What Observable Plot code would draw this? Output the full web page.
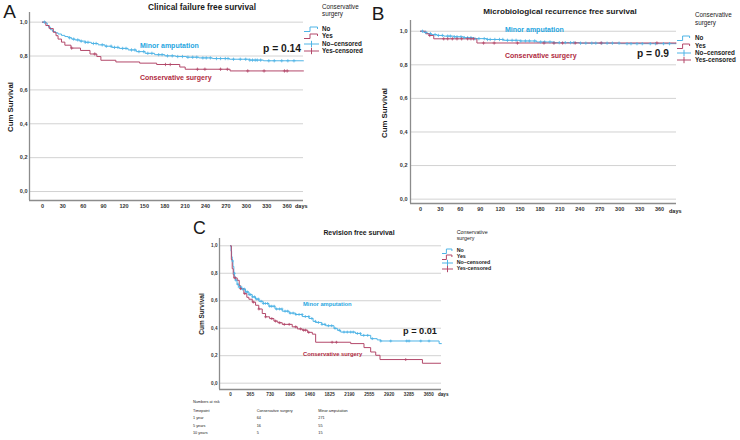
<!DOCTYPE html>
<html><head><meta charset="utf-8">
<script src="https://cdn.jsdelivr.net/npm/d3@7"></script>
<script src="https://cdn.jsdelivr.net/npm/@observablehq/plot@0.6"></script>
<style>
body{margin:0;background:#fff;}
#fig{position:relative;width:740px;height:440px;overflow:hidden;font-family:"Liberation Sans",Arial,sans-serif;color:#1a1a1a;background:#fff;}
.t{position:absolute;white-space:nowrap;line-height:1;}
.pan{position:absolute;}
</style></head><body><div id="fig"></div>
<script>
// ---------- DATA ----------
const groups = ["No", "Yes"];
const yTickValues = [0, 0.2, 0.4, 0.6, 0.8, 1.0];
const yTickLabels = ["0,0", "0,2", "0,4", "0,6", "0,8", "1,0"];
const daysTicksAB = [0, 30, 60, 90, 120, 150, 180, 210, 240, 270, 300, 330, 360];
const daysTicksC = [0, 365, 730, 1095, 1460, 1825, 2190, 2555, 2920, 3285, 3650];

// Panel A: Clinical failure free survival  [day, cumulative survival]
const aNo = [[0,1],[5,0.995],[7,0.98],[9,0.97],[12,0.955],[15,0.945],[19,0.937],[23,0.93],[28,0.922],[33,0.915],[38,0.908],[43,0.9],[48,0.895],[55,0.888],[63,0.881],[72,0.874],[82,0.866],[92,0.858],[102,0.851],[113,0.845],[126,0.836],[138,0.826],[151,0.816],[165,0.808],[180,0.801],[196,0.797],[212,0.793],[230,0.789],[250,0.785],[275,0.781],[305,0.776],[325,0.772],[384,0.772]];
const aYes = [[0,1],[5,0.98],[10,0.962],[16,0.94],[20,0.92],[23,0.9],[28,0.882],[33,0.864],[42,0.847],[56,0.833],[70,0.812],[80,0.797],[86,0.775],[108,0.765],[143,0.758],[168,0.75],[202,0.735],[210,0.722],[276,0.712],[384,0.712]];
const aNoCensored = [3,40,46,52,57,63,67,75,79,88,94,101,106,111,118,123,131,136,142,149,155,161,171,176,184,191,199,206,214,221,227,236,241,247,256,262,269,273,281,291,299,305,309,313,316,321,333,341,352,361,370];
const aYesCensored = [43,77,181,188,228,239,262,272,302,326,356,360];

// Panel B: Microbiological recurrence free survival
const bNo = [[0,1],[5,0.993],[10,0.986],[16,0.98],[25,0.975],[35,0.971],[50,0.967],[65,0.962],[80,0.956],[100,0.951],[125,0.946],[150,0.942],[175,0.936],[200,0.932],[240,0.929],[300,0.926],[385,0.926]];
const bYes = [[0,1],[8,0.985],[13,0.975],[20,0.955],[85,0.93],[385,0.93]];
const bNoCensored = [3,8,15,22,27,33,41,45,51,55,61,66,71,76,82,88,96,101,105,112,119,124,131,138,144,151,158,164,172,181,187,195,201,209,218,226,231,241,249,258,264,273,281,289,299,311,317,326,334,346,354,366,375];
const bYesCensored = [14,35,41,48,55,62,71,76,80,95,111,146,186,201,214,233,272,356];

// Panel C: Revision free survival
const cNo = [[0,1],[10,0.96],[20,0.92],[31,0.89],[45,0.85],[61,0.8],[75,0.775],[92,0.75],[120,0.72],[153,0.7],[200,0.685],[276,0.664],[340,0.645],[399,0.628],[460,0.612],[522,0.596],[600,0.58],[706,0.56],[820,0.54],[952,0.524],[1080,0.51],[1198,0.5],[1320,0.485],[1444,0.471],[1520,0.45],[1567,0.442],[1680,0.428],[1751,0.418],[1905,0.399],[1966,0.385],[2028,0.372],[2300,0.362],[2396,0.348],[2581,0.324],[2700,0.315],[2765,0.307],[3840,0.288],[3884,0.288]];
const cYes = [[0,1],[15,0.9],[31,0.833],[50,0.79],[61,0.766],[123,0.749],[160,0.71],[184,0.688],[246,0.652],[300,0.625],[338,0.611],[400,0.59],[461,0.567],[520,0.54],[584,0.507],[645,0.483],[720,0.47],[799,0.452],[870,0.44],[952,0.428],[1136,0.41],[1230,0.395],[1321,0.386],[1420,0.37],[1506,0.357],[1567,0.298],[2212,0.288],[2457,0.259],[2580,0.227],[2673,0.203],[2752,0.172],[3533,0.145],[3870,0.145]];
const cNoCensored = [38,72,98,133,158,192,221,254,283,312,344,371,405,442,483,518,563,604,641,683,722,758,803,848,903,947,1004,1052,1098,1153,1204,1262,1318,1377,1442,1497,1563,1618,1684,1738,1803,1862,1924,2004,2089,2150,2212,2260,2335,2390,2452,2525,2610,2765,2949,3244,3287,3502,3655];
const cYesCensored = [80,184,262,420,522,645,760,830,905,990,1080,1200,1290,1345,1382,1440,1870,1950,3225];

// Numbers at risk (panel C)
const riskRows = ["1 year", "5 years", "10 years"];
const riskConservative = [64, 16, 5];
const riskMinor = [271, 55, 15];

// ---------- STYLE ----------
const BLUE = "#4fb4e6", RED = "#b3486a", BLUE_T = "#27a6df", RED_T = "#b02a3e";
const FONT = '"Liberation Sans", Arial, sans-serif';
const fig = document.getElementById("fig");

function survAt(steps, t) {
  let v = steps[0][1];
  for (const [d, s] of steps) { if (d <= t) v = s; else break; }
  return v;
}

function panel(cfg) {
  const cens = (times, steps) => times.map(t => ({t, s: survAt(steps, t)}));
  const chart = Plot.plot({
    width: cfg.width, height: cfg.height,
    marginLeft: cfg.ml, marginRight: cfg.mr, marginTop: cfg.mt, marginBottom: cfg.mb,
    style: {fontFamily: FONT, fontSize: cfg.tick + "px", fontWeight: "bold", color: "#333", background: "transparent", overflow: "visible"},
    x: {domain: cfg.xDomain, ticks: cfg.xTicks, tickFormat: d => String(d), tickSize: 0, tickPadding: cfg.xpad, label: null},
    y: {domain: cfg.yDomain, ticks: yTickValues, tickFormat: d => yTickLabels[yTickValues.indexOf(d)], tickSize: 0, tickPadding: cfg.ypad, label: null},
    marks: [
      Plot.ruleY(yTickValues, {stroke: "#cdcdcd", strokeWidth: 0.9}),
      Plot.ruleX([cfg.xDomain[0]], {stroke: "#8c8c8c", strokeWidth: 1.3}),
      Plot.ruleY([cfg.yDomain[0]], {stroke: "#8c8c8c", strokeWidth: 1.3}),
      Plot.line(cfg.no, {x: d => d[0], y: d => d[1], curve: "step-after", stroke: BLUE, strokeWidth: 1}),
      Plot.line(cfg.yes, {x: d => d[0], y: d => d[1], curve: "step-after", stroke: RED, strokeWidth: 1}),
      Plot.dot(cens(cfg.noC, cfg.no), {x: "t", y: "s", symbol: "plus", r: cfg.r, stroke: BLUE, strokeWidth: 0.8}),
      Plot.dot(cens(cfg.yesC, cfg.yes), {x: "t", y: "s", symbol: "plus", r: cfg.r, stroke: RED, strokeWidth: 0.8})
    ]
  });
  const d = document.createElement("div");
  d.className = "pan";
  d.style.left = cfg.left + "px"; d.style.top = cfg.top + "px";
  d.appendChild(chart);
  fig.appendChild(d);
}

function txt(s, x, y, size, o = {}) {
  const e = document.createElement("div");
  e.className = "t";
  e.textContent = s;
  e.style.left = x + "px"; e.style.top = y + "px";
  e.style.fontSize = size + "px";
  e.style.fontWeight = o.w || "bold";
  if (o.c) e.style.color = o.c;
  let tr = o.center ? "translate(-50%,-50%)" : "translateY(-50%)";
  if (o.rot) tr += " rotate(-90deg)";
  e.style.transform = tr;
  fig.appendChild(e);
}

function legend(x, y0, dy, tx, gw, size, titleY1, titleY2) {
  txt("Conservative", tx, titleY1, size, {w: "normal"});
  txt("surgery", tx, titleY2, size, {w: "normal"});
  const items = [
    {label: "No", c: BLUE, kind: "step"},
    {label: "Yes", c: RED, kind: "step"},
    {label: "No\u2013censored", c: BLUE, kind: "cens"},
    {label: "Yes-censored", c: RED, kind: "cens"}
  ];
  items.forEach((it, i) => {
    const y = y0 + i * dy;
    const ns = "http://www.w3.org/2000/svg";
    const svg = document.createElementNS(ns, "svg");
    svg.setAttribute("width", gw); svg.setAttribute("height", 8);
    svg.style.position = "absolute"; svg.style.left = x + "px"; svg.style.top = (y - 4) + "px";
    const p = document.createElementNS(ns, "path");
    const h = gw;
    p.setAttribute("d", it.kind === "step"
      ? `M0,6.5 H${h*0.4} V2 H${h*0.9} V4`
      : `M0,4 H${h} M${h/2},0.8 V7.2`);
    p.setAttribute("fill", "none"); p.setAttribute("stroke", it.c); p.setAttribute("stroke-width", 1);
    svg.appendChild(p);
    fig.appendChild(svg);
    txt(it.label, tx, y, size, {});
  });
}

// ---------- PANEL A ----------
panel({left: 0, top: 0, width: 308, height: 213, ml: 29, mr: 5, mt: 12, mb: 13,
  xDomain: [-19, 384], yDomain: [-0.053, 1.057], xTicks: daysTicksAB, tick: 5.5, xpad: 4, ypad: 2,
  no: aNo, yes: aYes, noC: aNoCensored, yesC: aYesCensored, r: 1.15});
txt("A", 9.5, 10.5, 19, {w: "normal", center: true});
txt("Clinical failure free survival", 202, 7, 8.3, {center: true});
txt("Cum Survival", 11, 107, 7.8, {center: true, rot: true});
txt("days", 295, 206.7, 5.5, {});
txt("Minor amputation", 140, 45, 7, {c: BLUE_T});
txt("Conservative surgery", 140, 77, 7, {c: RED_T});
txt("p = 0.14", 263, 49, 10.3, {});
legend(304, 29, 7.3, 322, 15, 6.3, 6.7, 14.3);

// ---------- PANEL B ----------
panel({left: 380, top: 0, width: 301, height: 217, ml: 30, mr: 5, mt: 20, mb: 14,
  xDomain: [-15, 385.5], yDomain: [-0.026, 1.064], xTicks: daysTicksAB, tick: 5.5, xpad: 4, ypad: 3,
  no: bNo, yes: bYes, noC: bNoCensored, yesC: bYesCensored, r: 1.15});
txt("B", 378, 12.7, 19, {w: "normal", center: true});
txt("Microbiological recurrence free survival", 560, 12, 8.1, {center: true});
txt("Cum Survival", 385, 113, 7.8, {center: true, rot: true});
txt("days", 669, 211.7, 5.5, {});
txt("Minor amputation", 505, 28.7, 7, {c: BLUE_T});
txt("Conservative surgery", 505, 55, 7, {c: RED_T});
txt("p = 0.9", 637, 54.3, 10.2, {});
legend(677, 38.3, 7.3, 695, 14, 6.3, 15, 23.3);

// ---------- PANEL C ----------
panel({left: 190, top: 215, width: 256, height: 186, ml: 29, mr: 5, mt: 23, mb: 12,
  xDomain: [-203, 3884], yDomain: [-0.046, 1.053], xTicks: daysTicksC, tick: 4.6, xpad: 3.5, ypad: 2,
  no: cNo, yes: cYes, noC: cNoCensored, yesC: cYesCensored, r: 1});
txt("C", 199.5, 228.7, 17.7, {w: "normal", center: true});
txt("Revision free survival", 359, 232.7, 6.9, {center: true});
txt("Cum Survival", 201.7, 314, 6.5, {center: true, rot: true});
txt("days", 438, 395, 4.6, {});
txt("Minor amputation", 303, 305, 5.8, {c: BLUE_T});
txt("Conservative surgery", 303, 355, 5.8, {c: RED_T});
txt("p = 0.01", 403, 332.3, 9.2, {});
legend(442, 250.7, 6.2, 456.7, 11, 5.3, 232.7, 239.3);

// Numbers at risk table
txt("Numbers at risk", 193, 403.3, 3.8, {w: "normal"});
txt("Timepoint", 193, 411.7, 3.8, {w: "normal"});
txt("Conservative surgery", 256.7, 411.7, 3.8, {w: "normal"});
txt("Minor amputation", 318.3, 411.7, 3.8, {w: "normal"});
riskRows.forEach((r, i) => {
  const y = 419 + i * 7.5;
  txt(r, 193, y, 3.8, {w: "normal"});
  txt(String(riskConservative[i]), 256.7, y, 3.8, {w: "normal"});
  txt(String(riskMinor[i]), 318.3, y, 3.8, {w: "normal"});
});
</script>
</body></html>
